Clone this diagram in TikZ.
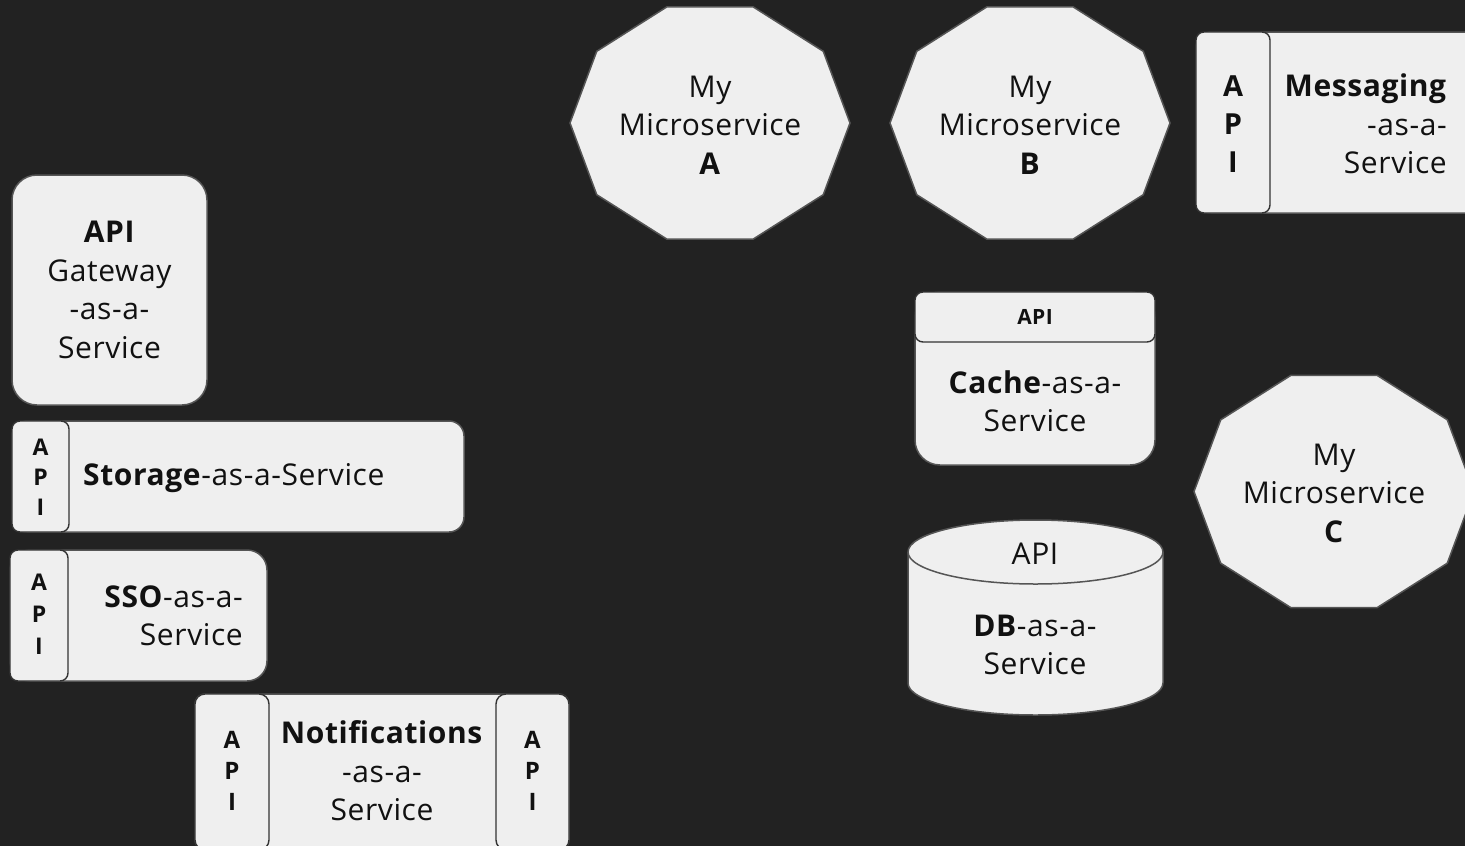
\documentclass[tikz,border=0pt]{standalone}
\usepackage{fontspec}
\setmainfont[LetterSpace=2]{Open Sans}
\definecolor{bg}{HTML}{222222}
\definecolor{boxfill}{HTML}{EFEFEF}
\definecolor{edgegray}{HTML}{555555}
\definecolor{tabedge}{HTML}{333333}
\definecolor{ink}{HTML}{111111}
\tikzset{
  box/.style={draw=edgegray, fill=boxfill, line width=1.5pt, inner sep=0pt},
  tabbox/.style={draw=tabedge, fill=boxfill, line width=1.4pt, inner sep=0pt},
  txt/.style={text=ink, inner sep=0pt, align=center, font=\fontsize{30}{38.5}\selectfont},
  tabtxt/.style={text=ink, inner sep=0pt, align=center, font=\bfseries\fontsize{24}{31}\selectfont},
  bigtabtxt/.style={text=ink, inner sep=0pt, align=center, font=\bfseries\fontsize{29}{38}\selectfont},
}
% stretched decagon around a centre point
\newcommand\decagonat[2]{%
  \draw[box] (#1+140,#2) \foreach \k in {1,...,9}{ -- ({#1+140*cos(36*\k)},{#2+122*sin(36*\k)}) } -- cycle;}
\begin{document}
\begin{tikzpicture}[x=1pt,y=-1pt]
\useasboundingbox (0,0) rectangle (1465,846);
\clip (0,0) rectangle (1465,846);
\fill[bg] (0,0) rectangle (1465,846);

% microservices
\decagonat{710}{123}
\node[txt] (msa) at (710,125) {My\\Microservice\\\textbf{A}};
\decagonat{1030}{123}
\node[txt] (msb) at (1030,125) {My\\Microservice\\\textbf{B}};
\decagonat{1334}{491.5}
\node[txt] (msc) at (1334,493) {My\\Microservice\\\textbf{C}};

% messaging
\node[box, rounded corners=15pt, minimum width=290pt, minimum height=181pt] (msgbox) at (1341,122.5) {};
\node[tabbox, rounded corners=8pt, minimum width=74pt, minimum height=181pt] (msgapi) at (1233,122.5) {};
\node[bigtabtxt] (msgapitxt) at (1233,124) {A\\P\\I};
\node[txt, align=right, anchor=east] (msgtxt) at (1447,124) {\textbf{Messaging}\\-as-a-\\Service};

% api gateway
\node[box, rounded corners=25pt, minimum width=195pt, minimum height=230pt] (gw) at (109.5,290) {};
\node[txt] (gwtxt) at (109.5,290) {\textbf{API}\\Gateway\\-as-a-\\Service};

% cache
\node[box, rounded corners=25pt, minimum width=240pt, minimum height=173pt] (cache) at (1035,378.5) {};
\node[tabbox, rounded corners=8pt, minimum width=240pt, minimum height=50pt] (cacheapi) at (1035,317) {};
\node[tabtxt, font=\bfseries\fontsize{21}{25}\selectfont] (cacheapitxt) at (1035,317) {API};
\node[txt] (cachetxt) at (1035,401) {\textbf{Cache}-as-a-\\Service};

% database
\draw[box] (908,552) -- (908,683) arc[start angle=180, end angle=0, x radius=127.5, y radius=32]
  -- (1163,552) arc[start angle=0, end angle=-180, x radius=127.5, y radius=32] -- cycle;
\draw[box, fill=none] (908,552) arc[start angle=180, end angle=0, x radius=127.5, y radius=32];
\node[txt] (dbapi) at (1035,554) {API};
\node[txt] (dbtxt) at (1035,645) {\textbf{DB}-as-a-\\Service};

% storage
\node[box, rounded corners=15pt, minimum width=452pt, minimum height=111pt] (stor) at (238,476.5) {};
\node[tabbox, rounded corners=8pt, minimum width=57pt, minimum height=111pt] (storapi) at (40.5,476.5) {};
\node[tabtxt, font=\bfseries\fontsize{23}{30}\selectfont] (storapitxt) at (40.5,477) {A\\P\\I};
\node[txt, anchor=west] (stortxt) at (83,478) {\textbf{Storage}-as-a-Service};

% single sign-on
\node[box, rounded corners=20pt, minimum width=257pt, minimum height=131pt] (sso) at (138.5,615.5) {};
\node[tabbox, rounded corners=8pt, minimum width=58pt, minimum height=131pt] (ssoapi) at (39,615.5) {};
\node[tabtxt, font=\bfseries\fontsize{23}{32}\selectfont] (ssoapitxt) at (39,614) {A\\P\\I};
\node[txt, align=right, anchor=east] (ssotxt) at (243,616) {\textbf{SSO}-as-a-\\Service};

% notifications
\node[box, rounded corners=10pt, minimum width=374pt, minimum height=156pt] (notif) at (382,772) {};
\node[tabbox, rounded corners=10pt, minimum width=74pt, minimum height=156pt] (notifapil) at (232,772) {};
\node[tabbox, rounded corners=10pt, minimum width=73pt, minimum height=156pt] (notifapir) at (532.5,772) {};
\node[tabtxt] (notifapiltxt) at (232,771) {A\\P\\I};
\node[tabtxt] (notifapirtxt) at (532.5,771) {A\\P\\I};
\node[txt] (notiftxt) at (382,771) {\textbf{Notifications}\\-as-a-\\Service};
\end{tikzpicture}
\end{document}
